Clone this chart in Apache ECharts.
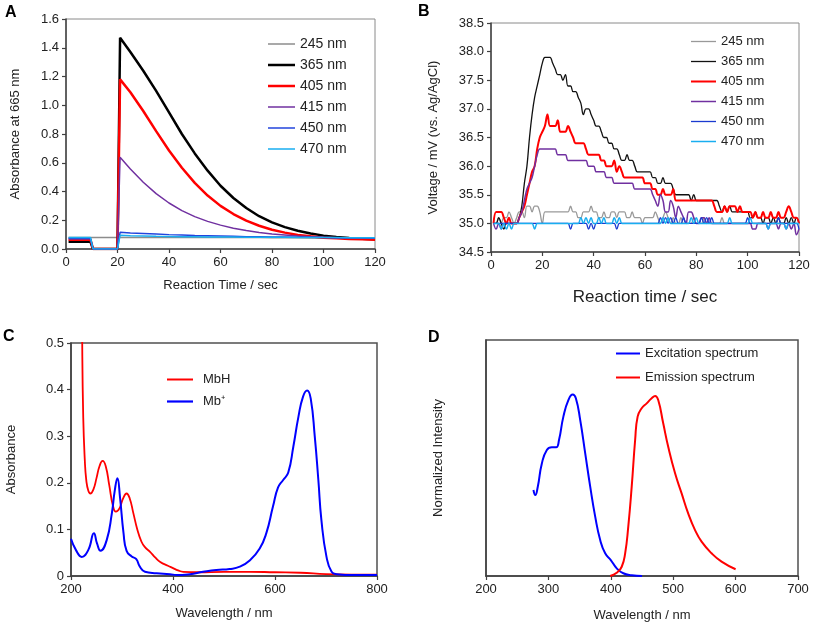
<!DOCTYPE html>
<html>
<head>
<meta charset="utf-8">
<script src="https://cdn.jsdelivr.net/npm/echarts@6/dist/echarts.min.js"></script>
<style>html,body{margin:0;padding:0;background:#fff}#c{width:813px;height:624px}</style>
</head>
<body>
<div id="c"></div>
<script>
// ---------- Panel A : absorbance at 665 nm vs reaction time ----------
const aTime = [1, 9.5, 10.5, 20, 21, 25, 30, 35, 40, 45, 50, 55, 60, 65, 70, 75, 80, 85, 90, 95, 100, 105, 110, 115, 120];
const a245 = [0.08, 0.08, 0.08, 0.08, 0.08, 0.08, 0.08, 0.08, 0.08, 0.08, 0.08, 0.08, 0.08, 0.08, 0.08, 0.08, 0.078, 0.078, 0.078, 0.077, 0.077, 0.076, 0.076, 0.075, 0.075];
const a365 = [0.05, 0.05, 0, 0, 1.47, 1.37, 1.24, 1.10, 0.95, 0.80, 0.665, 0.545, 0.44, 0.355, 0.285, 0.228, 0.185, 0.152, 0.127, 0.108, 0.093, 0.084, 0.077, 0.072, 0.068];
const a405 = [0.065, 0.065, 0, 0, 1.18, 1.09, 0.96, 0.82, 0.685, 0.565, 0.46, 0.372, 0.30, 0.243, 0.197, 0.162, 0.134, 0.114, 0.098, 0.088, 0.079, 0.074, 0.07, 0.067, 0.065];
const a415 = [0.07, 0.07, 0, 0, 0.638, 0.556, 0.464, 0.385, 0.32, 0.267, 0.225, 0.192, 0.166, 0.145, 0.128, 0.114, 0.104, 0.097, 0.09, 0.085, 0.081, 0.079, 0.077, 0.076, 0.075];
const a450 = [0.075, 0.075, 0, 0, 0.116, 0.112, 0.108, 0.104, 0.1, 0.097, 0.094, 0.092, 0.09, 0.088, 0.086, 0.085, 0.084, 0.083, 0.082, 0.081, 0.08, 0.079, 0.078, 0.078, 0.077];
const a470 = [0.08, 0.08, 0, 0, 0.095, 0.092, 0.09, 0.088, 0.087, 0.086, 0.085, 0.084, 0.083, 0.083, 0.082, 0.082, 0.081, 0.081, 0.08, 0.08, 0.08, 0.08, 0.079, 0.079, 0.079];

// ---------- Panel B : voltage vs reaction time (1 s samples) ----------
const bTime = [1,2,3,4,5,6,7,8,9,10,11,12,13,14,15,16,17,18,19,20,21,22,23,24,25,26,27,28,29,30,31,32,33,34,35,36,37,38,39,40,41,42,43,44,45,46,47,48,49,50,51,52,53,54,55,56,57,58,59,60,61,62,63,64,65,66,67,68,69,70,71,72,73,74,75,76,77,78,79,80,81,82,83,84,85,86,87,88,89,90,91,92,93,94,95,96,97,98,99,100,101,102,103,104,105,106,107,108,109,110,111,112,113,114,115,116,117,118,119,120];
const b245 = [35.0,35.0,35.1,35.0,35.1,35.1,35.2,35.1,35.0,35.1, 35.2,35.2,35.1,35.3,35.3,35.2,35.3,35.3,35.2,35.0, 35.2,35.2,35.2,35.2,35.2,35.2,35.2,35.2,35.2,35.2, 35.3,35.2,35.2,35.1,35.1,35.2,35.2,35.2,35.3,35.2, 35.2,35.1,35.1,35.2,35.1,35.1,35.2,35.2,35.1,35.2, 35.2,35.2,35.1,35.1,35.2,35.1,35.1,35.1,35.0,35.1, 35.1,35.1,35.1,35.2,35.1,35.0,35.1,35.2,35.1,35.0, 35.1,35.0,35.0,35.1,35.0,35.0,35.0,35.0,35.1,35.0, 35.0,35.0,35.1,35.0,35.0,35.0,35.0,35.0,35.0,35.1, 35.0,35.0,35.0,35.0,35.0,35.0,35.0,35.0,35.0,35.0, 35.0,35.0,35.0,35.0,35.0,35.0,35.0,35.0,35.0,35.0, 35.0,35.0,35.0,35.0,35.0,35.0,35.0,35.0,35.0,35.0];
const b365 = [35.0,35.0,35.1,35.0,34.9,35.0,35.0,35.0,35.0,35.0, 35.1,35.3,35.7,36.0,36.5,36.9,37.2,37.4,37.6,37.8, 37.9,37.9,37.9,37.8,37.7,37.6,37.6,37.5,37.6,37.4, 37.4,37.3,37.3,37.2,37.1,36.9,37.0,37.0,36.9,36.8, 36.7,36.7,36.6,36.5,36.5,36.4,36.4,36.3,36.3,36.2, 36.1,36.1,36.2,36.1,36.1,36.0,35.9,35.9,35.9,35.9, 35.9,35.9,35.8,35.8,35.7,35.7,35.8,35.7,35.7,35.7, 35.6,35.5,35.5,35.5,35.5,35.5,35.5,35.4,35.5,35.4, 35.4,35.4,35.4,35.4,35.4,35.4,35.4,35.4,35.3,35.2, 35.3,35.2,35.3,35.2,35.2,35.2,35.2,35.2,35.2,35.2, 35.1,35.1,35.2,35.1,35.1,35.0,35.1,35.1,35.0,35.1, 35.0,35.1,35.0,35.0,35.1,35.0,35.1,35.0,35.1,35.0];
const b405 = [35.0,35.2,35.2,35.2,35.1,35.0,35.1,35.0,35.0,35.0, 35.1,35.2,35.3,35.5,35.7,35.9,36.0,36.3,36.5,36.6, 36.7,36.9,36.7,36.7,36.7,36.8,36.6,36.6,36.6,36.7, 36.6,36.5,36.4,36.4,36.4,36.4,36.3,36.2,36.2,36.2, 36.2,36.2,36.1,36.1,36.0,36.0,36.0,36.1,35.9,36.0, 35.9,35.8,35.8,35.8,35.8,35.8,35.8,35.8,35.8,35.7, 35.7,35.7,35.6,35.6,35.5,35.5,35.6,35.5,35.5,35.5, 35.6,35.4,35.4,35.4,35.4,35.4,35.4,35.4,35.4,35.4, 35.4,35.4,35.4,35.4,35.4,35.4,35.3,35.2,35.2,35.2, 35.3,35.2,35.3,35.3,35.3,35.2,35.3,35.2,35.2,35.2, 35.2,35.1,35.2,35.1,35.1,35.2,35.1,35.1,35.2,35.1, 35.1,35.2,35.1,35.1,35.2,35.3,35.2,35.1,35.1,35.0];
const b415 = [35.0,34.9,35.0,34.9,35.0,35.0,35.0,35.0,35.0,35.0, 35.1,35.2,35.4,35.6,35.7,35.8,36.0,36.2,36.3,36.3, 36.3,36.3,36.3,36.3,36.3,36.2,36.2,36.2,36.2,36.1, 36.1,36.1,36.1,36.1,36.1,36.1,36.1,36.0,36.0,36.0, 35.9,35.9,35.9,35.9,35.8,35.8,35.8,35.7,35.7,35.7, 35.7,35.7,35.7,35.7,35.7,35.6,35.6,35.6,35.6,35.6, 35.6,35.6,35.5,35.4,35.3,35.5,35.4,35.2,35.2,35.4, 35.3,35.1,35.3,35.2,35.1,35.0,35.2,35.2,35.1,35.0, 35.0,35.1,35.1,35.0,35.1,35.0,35.0,35.0,35.0,35.0, 35.0,35.0,35.0,35.0,35.0,35.0,35.0,35.0,35.0,35.0, 35.0,34.9,34.9,35.0,35.0,35.0,35.0,34.9,35.0,35.0, 35.0,34.9,35.0,35.0,34.9,35.0,34.9,35.0,34.8,34.9];
const b450 = [35.0,35.0,35.0,35.0,35.0,35.0,35.0,35.0,35.0,35.0, 35.0,35.0,35.0,35.0,35.0,35.0,35.0,35.0,35.0,35.0, 35.0,35.0,35.0,35.0,35.0,35.0,35.0,35.0,35.0,35.0, 34.9,35.0,35.0,35.0,35.0,35.0,35.0,34.9,35.0,34.9, 35.0,35.0,35.0,35.0,35.0,35.0,35.0,35.0,34.9,35.0, 35.0,35.0,35.0,35.0,35.0,35.0,35.0,35.0,35.0,35.0, 35.0,35.0,35.0,35.0,35.0,35.1,35.0,35.1,35.0,35.1, 35.0,35.1,35.0,35.0,35.1,35.0,35.0,35.0,35.0,35.0, 35.0,35.1,35.0,35.1,35.0,35.1,35.0,35.0,35.0,35.0, 35.0,35.0,35.0,35.0,35.0,35.0,35.0,35.0,35.0,35.1, 35.0,35.0,35.0,35.0,35.0,35.0,35.0,35.0,35.0,35.0, 35.0,35.1,35.0,35.0,35.0,35.0,35.0,35.0,35.0,34.9];
const b470 = [35.0,35.0,35.0,34.9,35.0,34.9,35.0,34.9,35.0,35.0, 35.0,35.0,35.0,35.0,35.0,35.0,34.9,35.0,35.0,35.0, 35.0,35.0,35.0,35.0,35.0,35.0,35.0,35.0,35.0,35.0, 35.0,35.0,35.0,35.0,35.1,35.0,35.1,35.0,35.1,35.0, 35.0,35.1,35.0,35.1,35.0,35.0,35.0,35.1,35.0,35.1, 35.0,35.0,35.0,35.0,35.0,35.0,35.0,35.0,35.0,35.0, 35.0,35.0,35.0,35.0,35.0,35.0,35.1,35.0,35.1,35.0, 35.0,35.0,35.0,35.0,35.0,35.0,35.0,35.1,35.0,35.1, 35.0,35.0,35.0,35.0,35.0,35.0,35.0,35.0,35.0,35.0, 35.0,35.0,35.1,35.0,35.0,35.0,35.0,35.0,35.0,35.0, 35.1,35.0,35.0,35.0,35.0,35.0,35.0,34.9,35.0,35.0, 35.0,35.0,35.0,35.0,34.9,35.0,35.0,35.0,35.0,35.0];

// ---------- Panel C : absorption spectra ----------
const cMbHWl  = [220, 222, 224, 227, 230, 234, 238, 244, 250, 256, 262, 268, 275, 282, 288, 295, 302, 309, 315, 322, 330, 338, 345, 355, 365, 375, 390, 400, 410, 420, 450, 500, 550, 600, 650, 700, 750, 800];
const cMbHAbs = [0.9, 0.5, 0.34, 0.25, 0.205, 0.183, 0.177, 0.186, 0.21, 0.236, 0.247, 0.236, 0.195, 0.152, 0.138, 0.145, 0.166, 0.177, 0.167, 0.136, 0.1, 0.074, 0.062, 0.052, 0.04, 0.03, 0.022, 0.017, 0.012, 0.009, 0.008, 0.009, 0.009, 0.008, 0.007, 0.004, 0.003, 0.003];
const cMbWl  = [200, 210, 221, 234, 245, 251, 258, 270, 280, 286, 291, 296, 303, 309, 319, 328, 335, 345, 368, 394, 407, 433, 459, 485, 511, 531, 551, 570, 583, 596, 606, 616, 626, 636, 646, 655, 663, 670, 678, 685, 691, 701, 711, 721, 754, 800];
const cMbAbs = [0.08, 0.055, 0.041, 0.056, 0.092, 0.07, 0.054, 0.077, 0.134, 0.185, 0.21, 0.17, 0.092, 0.054, 0.042, 0.036, 0.02, 0.009, 0.006, 0.004, 0.002, 0.004, 0.009, 0.013, 0.015, 0.02, 0.034, 0.059, 0.092, 0.149, 0.19, 0.206, 0.222, 0.278, 0.342, 0.385, 0.398, 0.381, 0.299, 0.206, 0.12, 0.041, 0.009, 0.004, 0.002, 0.002];

// ---------- Panel D : excitation / emission spectra ----------
const dExWl = [276, 279, 283, 289.5, 297.5, 305.5, 312.5, 317, 324, 332, 339, 344, 351, 359, 367, 375, 383, 391, 400, 409.5, 420, 433.5, 450];
const dExI  = [0.474, 0.446, 0.492, 0.62, 0.694, 0.709, 0.709, 0.749, 0.878, 0.969, 1.0, 0.979, 0.859, 0.676, 0.492, 0.327, 0.198, 0.125, 0.088, 0.042, 0.015, 0.004, 0.0];
const dEmWl = [399, 409.5, 417.5, 423, 428, 433.5, 439, 443, 449.5, 457.5, 465.5, 471, 476, 484, 492, 503, 513.5, 524, 535, 545.5, 561.5, 577.5, 600];
const dEmI  = [0.0, 0.018, 0.051, 0.125, 0.272, 0.492, 0.749, 0.878, 0.924, 0.951, 0.979, 0.992, 0.969, 0.841, 0.712, 0.566, 0.455, 0.345, 0.253, 0.189, 0.125, 0.079, 0.037];

const FONT = '"Liberation Sans", Arial, sans-serif';
const pair = (xs, ys) => xs.map((x, i) => [x, ys[i]]);
const bar = (w, t) => 'path://M0,0 L' + w + ',0 L' + w + ',' + t + ' L0,' + t + ' Z';

function axisBase(extra) {
  return Object.assign({
    type: 'value',
    axisLine: { show: true, onZero: false, lineStyle: { color: '#404040', width: 1.5 } },
    axisTick: { show: true, inside: false, length: 4, lineStyle: { color: '#404040', width: 1.2 } },
    axisLabel: { color: '#222', fontSize: 13, fontFamily: FONT, margin: 7 },
    splitLine: { show: false },
    nameLocation: 'middle',
    nameTextStyle: { color: '#222', fontSize: 13, fontFamily: FONT }
  }, extra);
}

function line(name, xi, data, color, width, extra) {
  return Object.assign({
    name: name, type: 'line', xAxisIndex: xi, yAxisIndex: xi,
    data: data, showSymbol: false, symbol: 'none',
    lineStyle: { color: color, width: width }, itemStyle: { color: color },
    animation: false, z: 3
  }, extra || {});
}

const aNames = ['245 nm', '365 nm', '405 nm', '415 nm', '450 nm', '470 nm'];
const aWidths = [1.5, 2.5, 2.5, 1.5, 1.5, 1.5];
const bWidths = [1.3, 1.3, 2, 1.5, 1.3, 1.5];
const strip = n => n.slice(2);

const option = {
  animation: false,
  backgroundColor: '#fff',
  title: [
    { text: 'A', left: 5, top: 5, padding: 0, textStyle: { fontSize: 16, fontWeight: 'bold', color: '#000', fontFamily: FONT } },
    { text: 'B', left: 418, top: 4, padding: 0, textStyle: { fontSize: 16, fontWeight: 'bold', color: '#000', fontFamily: FONT } },
    { text: 'C', left: 3, top: 329, padding: 0, textStyle: { fontSize: 16, fontWeight: 'bold', color: '#000', fontFamily: FONT } },
    { text: 'D', left: 428, top: 330, padding: 0, textStyle: { fontSize: 16, fontWeight: 'bold', color: '#000', fontFamily: FONT } }
  ],
  grid: [
    { left: 66, top: 19, width: 309, height: 230, show: true, borderColor: '#8a8a8a', borderWidth: 1 },
    { left: 491, top: 23, width: 308, height: 229, show: true, borderColor: '#8a8a8a', borderWidth: 1 },
    { left: 71, top: 343, width: 306, height: 233, show: true, borderColor: '#505050', borderWidth: 1.5 },
    { left: 486, top: 340, width: 312, height: 236, show: true, borderColor: '#505050', borderWidth: 1.5 }
  ],
  legend: [
    { data: aNames.map((n, i) => ({ name: 'A ' + n, icon: bar(27, aWidths[i]) })), formatter: strip,
      orient: 'vertical', left: 268, top: 37, padding: 0,
      itemWidth: 27, itemHeight: 14, itemGap: 7,
      textStyle: { fontSize: 14, color: '#222', fontFamily: FONT } },
    { data: aNames.map((n, i) => ({ name: 'B ' + n, icon: bar(25, bWidths[i]) })), formatter: strip,
      orient: 'vertical', left: 691, top: 35, padding: 0,
      itemWidth: 25, itemHeight: 14, itemGap: 7,
      textStyle: { fontSize: 13, color: '#222', fontFamily: FONT } },
    { data: [{ name: 'C MbH', icon: bar(26, 2) }, { name: 'C Mb\u207A', icon: bar(26, 2.2) }], formatter: strip,
      orient: 'vertical', left: 167, top: 373, padding: 0,
      itemWidth: 26, itemHeight: 14, itemGap: 9,
      textStyle: { fontSize: 13, color: '#222', fontFamily: FONT, padding: [0, 0, 0, 5] } },
    { data: [{ name: 'D Excitation spectrum', icon: bar(24, 2) }, { name: 'D Emission spectrum', icon: bar(24, 2) }], formatter: strip,
      orient: 'vertical', left: 616, top: 347, padding: 0,
      itemWidth: 24, itemHeight: 14, itemGap: 11,
      textStyle: { fontSize: 13, color: '#222', fontFamily: FONT } }
  ],
  xAxis: [
    axisBase({ gridIndex: 0, min: 0, max: 120, interval: 20, name: 'Reaction Time / sec', nameGap: 30 }),
    axisBase({ gridIndex: 1, min: 0, max: 120, interval: 20, name: 'Reaction time / sec', nameGap: 37,
      nameTextStyle: { color: '#222', fontSize: 17, fontFamily: FONT } }),
    axisBase({ gridIndex: 2, min: 200, max: 800, interval: 200, name: 'Wavelength / nm', nameGap: 31 }),
    axisBase({ gridIndex: 3, min: 200, max: 700, interval: 100, name: 'Wavelength / nm', nameGap: 33 })
  ],
  yAxis: [
    axisBase({ gridIndex: 0, min: 0, max: 1.6, interval: 0.2, name: 'Absorbance at 665 nm', nameGap: 44,
      axisLabel: { color: '#222', fontSize: 13, fontFamily: FONT, margin: 7, formatter: v => v.toFixed(1) } }),
    axisBase({ gridIndex: 1, min: 34.5, max: 38.5, interval: 0.5, name: 'Voltage / mV (vs. Ag/AgCl)', nameGap: 51,
      axisLabel: { color: '#222', fontSize: 13, fontFamily: FONT, margin: 7, formatter: v => v.toFixed(1) } }),
    axisBase({ gridIndex: 2, min: 0, max: 0.5, interval: 0.1, name: 'Absorbance', nameGap: 53 }),
    axisBase({ gridIndex: 3, min: 0, max: 1.3, name: 'Normalized Intensity', nameGap: 41,
      axisTick: { show: false }, axisLabel: { show: false } })
  ],
  series: [
    line('A 245 nm', 0, pair(aTime, a245), '#8c8c8c', aWidths[0]),
    line('A 365 nm', 0, pair(aTime, a365), '#000000', aWidths[1]),
    line('A 405 nm', 0, pair(aTime, a405), '#ff0000', aWidths[2]),
    line('A 415 nm', 0, pair(aTime, a415), '#7030a0', aWidths[3]),
    line('A 450 nm', 0, pair(aTime, a450), '#2244dd', aWidths[4]),
    line('A 470 nm', 0, pair(aTime, a470), '#19aef0', aWidths[5]),

    line('B 245 nm', 1, pair(bTime, b245), '#999999', bWidths[0], { smooth: 0.4 }),
    line('B 365 nm', 1, pair(bTime, b365), '#111111', bWidths[1], { smooth: 0.4 }),
    line('B 405 nm', 1, pair(bTime, b405), '#ff0000', bWidths[2], { smooth: 0.4 }),
    line('B 415 nm', 1, pair(bTime, b415), '#7030a0', bWidths[3], { smooth: 0.4 }),
    line('B 450 nm', 1, pair(bTime, b450), '#1a3ad0', bWidths[4], { smooth: 0.4 }),
    line('B 470 nm', 1, pair(bTime, b470), '#19aef0', bWidths[5], { smooth: 0.4 }),

    line('C MbH', 2, pair(cMbHWl, cMbHAbs), '#ff0000', 1.8, { smooth: 0.5 }),
    line('C Mb\u207A', 2, pair(cMbWl, cMbAbs), '#0000ff', 2, { smooth: 0.5 }),

    line('D Excitation spectrum', 3, pair(dExWl, dExI), '#0000ff', 2, { smooth: 0.5 }),
    line('D Emission spectrum', 3, pair(dEmWl, dEmI), '#ff0000', 2, { smooth: 0.5 })
  ]
};

const chart = echarts.init(document.getElementById('c'), null, { renderer: 'canvas' });
chart.setOption(option);
</script>
</body>
</html>
